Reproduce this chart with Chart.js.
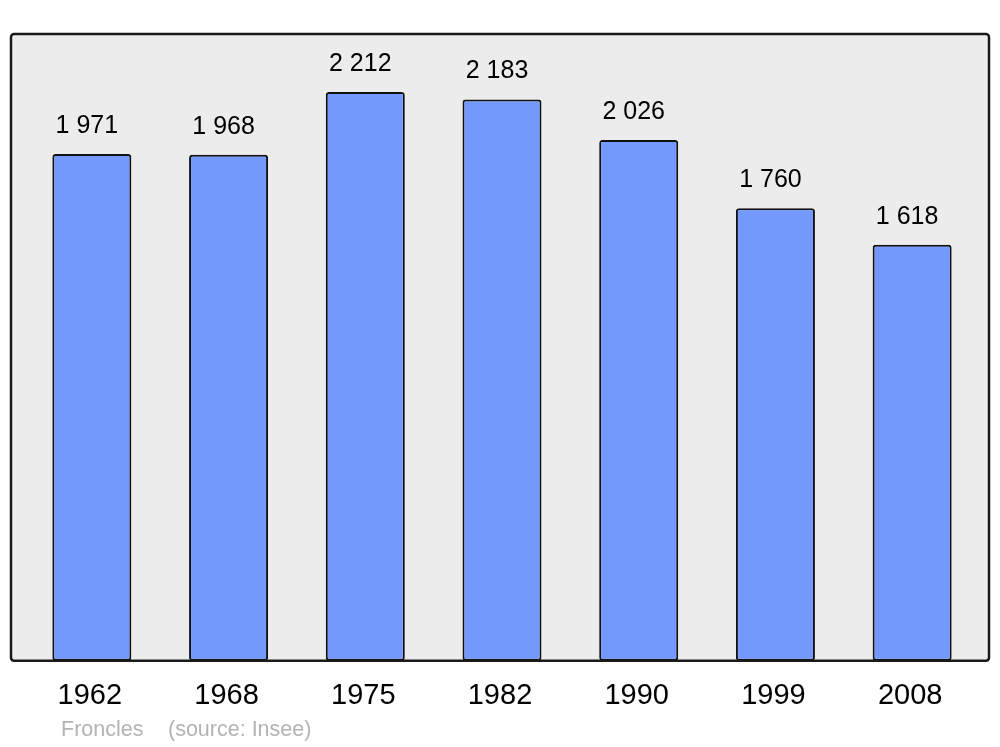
<!DOCTYPE html>
<html>
<head>
<meta charset="utf-8">
<script src="https://cdn.jsdelivr.net/npm/chart.js@4"></script>
<style>
    html, body { margin: 0; padding: 0; background: #ffffff; }
    #wrap { width: 1000px; height: 747px; position: relative; }
</style>
</head>
<body>
<div id="wrap"><canvas id="popChart"></canvas></div>
<script>
// Population data
const years = ['1962', '1968', '1975', '1982', '1990', '1999', '2008'];
const population = [1971, 1968, 2212, 2183, 2026, 1760, 1618];
const valueLabels = ['1 971', '1 968', '2 212', '2 183', '2 026', '1 760', '1 618'];
const footerName = 'Froncles';
const footerSource = '(source: Insee)';

const FONT = '"Liberation Sans", Arial, sans-serif';

// Grey frame behind the bars, border and labels on top
const framePlugin = {
    id: 'frame',
    beforeDraw(chart) {
        const ctx = chart.ctx;
        const area = chart.chartArea;
        ctx.save();
        ctx.beginPath();
        ctx.roundRect(11, area.top, 978, area.bottom - area.top, 3);
        ctx.fillStyle = '#ececec';
        ctx.fill();
        ctx.restore();
    },
    afterDatasetsDraw(chart) {
        const ctx = chart.ctx;
        const area = chart.chartArea;
        ctx.save();
        ctx.beginPath();
        ctx.roundRect(11, area.top, 978, area.bottom - area.top, 3);
        ctx.lineWidth = 2.5;
        ctx.strokeStyle = '#1a1a1a';
        ctx.stroke();

        // Value labels above bars
        const xScale = chart.scales.x;
        const yScale = chart.scales.y;
        ctx.fillStyle = '#000000';
        ctx.font = '25px ' + FONT;
        ctx.textAlign = 'center';
        ctx.textBaseline = 'middle';
        population.forEach((v, i) => {
            const px = xScale.getPixelForValue(i) - 5;
            const py = yScale.getPixelForValue(v) - 28;
            ctx.fillText(valueLabels[i], px, py);
        });

        // Footer
        ctx.fillStyle = '#b3b3b3';
        ctx.font = '21.5px ' + FONT;
        ctx.textAlign = 'left';
        ctx.fillText(footerName, 61, 730);
        ctx.fillText(footerSource, 168, 730);
        ctx.restore();
    }
};

const ctx = document.getElementById('popChart').getContext('2d');
new Chart(ctx, {
    type: 'bar',
    data: {
        labels: years,
        datasets: [{
            data: population,
            backgroundColor: '#7399ff',
            borderColor: '#111111',
            borderWidth: 2,
            borderRadius: 3,
            borderSkipped: false,
            barPercentage: 0.578,
            categoryPercentage: 1.0
        }]
    },
    options: {
        responsive: true,
        maintainAspectRatio: false,
        animation: false,
        layout: {
            padding: { left: 23.5, right: 19.5, top: 34, bottom: 23.4 }
        },
        plugins: {
            legend: { display: false },
            tooltip: { enabled: false }
        },
        scales: {
            x: {
                grid: { display: false },
                border: { display: false },
                ticks: {
                    color: '#000000',
                    padding: 10,
                    labelOffset: -2,
                    maxRotation: 0,
                    font: { family: FONT, size: 29 }
                }
            },
            y: {
                display: false,
                min: 0,
                max: 2438
            }
        }
    },
    plugins: [framePlugin]
});
</script>
</body>
</html>
